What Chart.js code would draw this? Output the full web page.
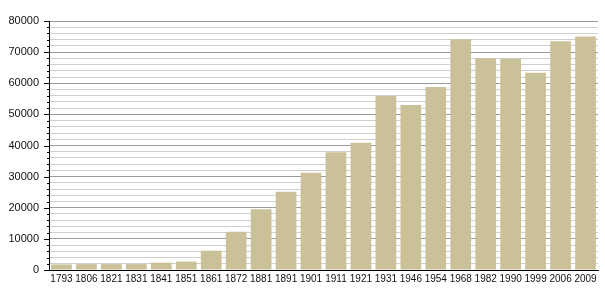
<!DOCTYPE html>
<html>
<head>
<meta charset="utf-8">
<script src="https://cdn.jsdelivr.net/npm/chart.js@4"></script>
<style>
html,body{margin:0;padding:0;background:#fff;}
#wrap{width:605px;height:300px;position:relative;}
</style>
</head>
<body>
<div id="wrap"><canvas id="c" width="605" height="300"></canvas></div>
<script>
const years = ['1793','1806','1821','1831','1841','1851','1861','1872','1881','1891','1901','1911','1921','1931','1946','1954','1968','1982','1990','1999','2006','2009'];
const population = [1800,1900,1900,1900,2350,2700,6200,12300,19500,25150,31270,37800,40900,55900,53000,58800,74100,68000,67900,63400,73500,75000];
const yTickLabels = [0,10000,20000,30000,40000,50000,60000,70000,80000];
const yMinorStep = 2000;

const tickMarks = {
  id: 'tickMarks',
  afterDraw(chart) {
    const y = chart.scales.y;
    const ctx = chart.ctx;
    const x0 = chart.chartArea.left;
    ctx.save();
    ctx.strokeStyle = '#000';
    ctx.lineWidth = 1;
    y.ticks.forEach(t => {
      const py = Math.round(y.getPixelForValue(t.value)) + 0.5;
      const major = yTickLabels.includes(t.value);
      ctx.beginPath();
      ctx.moveTo(x0 - (major ? 5 : 2), py);
      ctx.lineTo(x0, py);
      ctx.stroke();
    });
    ctx.restore();
  }
};

new Chart(document.getElementById('c'), {
  type: 'bar',
  data: {
    labels: years,
    datasets: [{
      data: population,
      backgroundColor: '#cbc199',
      borderWidth: 0,
      categoryPercentage: 1,
      barPercentage: 0.83
    }]
  },
  options: {
    responsive: false,
    animation: false,
    events: [],
    layout: { padding: { top: 21, right: 7, left: 0, bottom: 0 } },
    plugins: { legend: { display: false }, tooltip: { enabled: false } },
    scales: {
      x: {
        type: 'category',
        grid: { display: false, drawTicks: false },
        border: { display: true, color: '#000', width: 1 },
        ticks: {
          color: '#111',
          font: { family: '"Liberation Sans", Arial, sans-serif', size: 10 },
          maxRotation: 0, minRotation: 0, autoSkip: false, padding: 3
        },
        afterFit(s) { s.height = 30; }
      },
      y: {
        min: 0, max: 80000,
        grid: {
          drawTicks: false,
          color: ctx => (ctx.tick && yTickLabels.includes(ctx.tick.value)) ? '#9a9a9a' : '#cfcfcf',
          lineWidth: 1
        },
        border: { display: true, color: '#000', width: 1 },
        ticks: {
          stepSize: yMinorStep,
          autoSkip: false,
          color: '#111',
          padding: 10,
          font: { family: '"Liberation Sans", Arial, sans-serif', size: 11 },
          callback: v => yTickLabels.includes(v) ? String(v) : ''
        },
        afterFit(s) { s.width = 49; }
      }
    }
  },
  plugins: [tickMarks]
});
</script>
</body>
</html>
